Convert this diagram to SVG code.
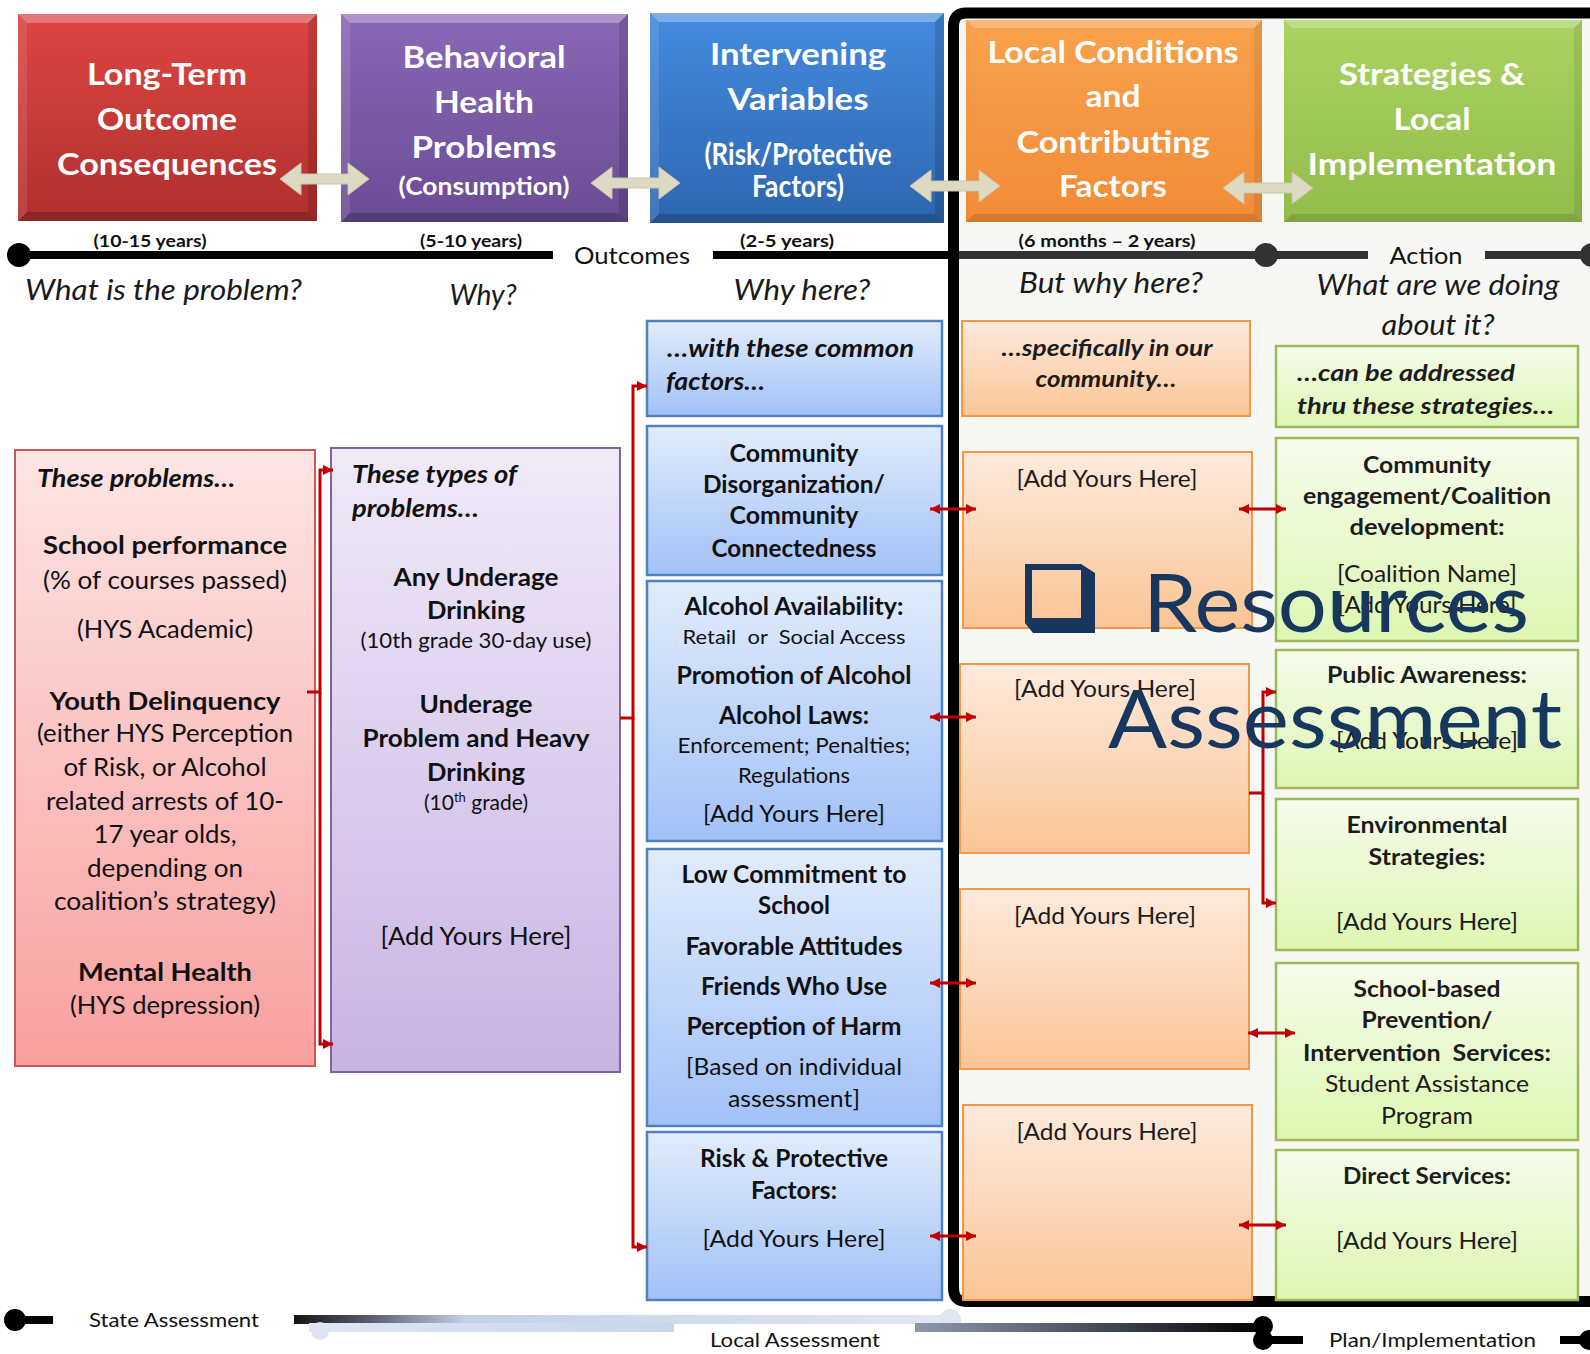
<svg xmlns="http://www.w3.org/2000/svg" width="1590" height="1354" viewBox="0 0 1590 1354">
<defs>
<linearGradient id="gPink" x1="0" y1="0" x2="0" y2="1"><stop offset="0" stop-color="#fde5e5"/><stop offset="1" stop-color="#f8a09f"/></linearGradient>
<linearGradient id="gPurp" x1="0" y1="0" x2="0" y2="1"><stop offset="0" stop-color="#f0eaf8"/><stop offset="1" stop-color="#c8b3e3"/></linearGradient>
<linearGradient id="gBlue" x1="0" y1="0" x2="0" y2="1"><stop offset="0" stop-color="#e1ecfc"/><stop offset="1" stop-color="#a2c1f7"/></linearGradient>
<linearGradient id="gOr" x1="0" y1="0" x2="0" y2="1"><stop offset="0" stop-color="#fdeadd"/><stop offset="1" stop-color="#fbc595"/></linearGradient>
<linearGradient id="gGr" x1="0" y1="0" x2="0" y2="1"><stop offset="0" stop-color="#f6fcec"/><stop offset="1" stop-color="#ddf6b1"/></linearGradient>
<linearGradient id="hRed" x1="0" y1="0" x2="0" y2="1"><stop offset="0" stop-color="#dd4643"/><stop offset="1" stop-color="#b0302d"/></linearGradient>
<linearGradient id="hPurp" x1="0" y1="0" x2="0" y2="1"><stop offset="0" stop-color="#8968b6"/><stop offset="1" stop-color="#6a4c94"/></linearGradient>
<linearGradient id="hBlue" x1="0" y1="0" x2="0" y2="1"><stop offset="0" stop-color="#458bdf"/><stop offset="1" stop-color="#2d66af"/></linearGradient>
<linearGradient id="hOr" x1="0" y1="0" x2="0" y2="1"><stop offset="0" stop-color="#f9a24c"/><stop offset="1" stop-color="#f28b37"/></linearGradient>
<linearGradient id="hGr" x1="0" y1="0" x2="0" y2="1"><stop offset="0" stop-color="#abd262"/><stop offset="1" stop-color="#92bc4c"/></linearGradient>
<linearGradient id="bar1" x1="0" y1="0" x2="1" y2="0"><stop offset="0" stop-color="#141414"/><stop offset="0.12" stop-color="#5b6172"/><stop offset="0.26" stop-color="#c3d0e7"/><stop offset="1" stop-color="#e2e8f4"/></linearGradient>
<linearGradient id="bar2" x1="0" y1="0" x2="1" y2="0"><stop offset="0" stop-color="#dfe6f3"/><stop offset="1" stop-color="#c8d5ec"/></linearGradient>
<linearGradient id="bar3" x1="0" y1="0" x2="1" y2="0"><stop offset="0" stop-color="#8e99ad"/><stop offset="0.5" stop-color="#4a4f5c"/><stop offset="1" stop-color="#000"/></linearGradient>
<marker id="ah" viewBox="0 0 10 10" refX="10" refY="5" markerWidth="11" markerHeight="10" markerUnits="userSpaceOnUse" orient="auto-start-reverse"><path d="M0,0 L10,5 L0,10 Z" fill="#c00000"/></marker>
</defs>
<style>
text{font-family:Lato,"Liberation Sans",sans-serif;fill:#111}
.hd{fill:#fff;font-weight:700;font-size:31px;text-anchor:middle}
.hs{font-size:24px}
.c{text-anchor:middle}
.b{font-weight:700}
.i{font-style:italic}
.pre{white-space:pre}
.yr{font-size:17px;font-weight:700;text-anchor:middle}
.q{font-size:29px;font-style:italic;fill:#1a1a1a}
.tl{font-size:20px}
.p{font-size:25px}
.bl{font-size:24px}
.sm{font-size:21px}
.og{font-size:23px;fill:#1c1c1c}
.wm{font-size:82px;fill:#17375e}
.hi{fill:#fff}
.sh{fill:#000}
.red{fill:none;stroke:#c00000;stroke-width:3}
.beige{fill:#ddd9c3;stroke:#c9c4a8;stroke-width:1}
</style>
<rect x="0" y="0" width="1590" height="1354" fill="#fff"/>
<rect x="953" y="13" width="640" height="1288" fill="#f7f7f5"/>

<g id="header-long-term">
<rect x="18" y="14" width="299" height="207" fill="url(#hRed)"/>
<path class="hi" opacity="0.28" d="M18,14 H317 L308,23 H27 Z"/>
<path class="hi" opacity="0.1" d="M18,14 L27,23 V212 L18,221 Z"/>
<path class="sh" opacity="0.14" d="M317,14 V221 L308,212 V23 Z"/>
<path class="sh" opacity="0.2" d="M18,221 H317 L308,212 H27 Z"/>
<text class="hd" x="167" y="85" textLength="160" lengthAdjust="spacingAndGlyphs">Long-Term</text>
<text class="hd" x="167" y="130" textLength="140" lengthAdjust="spacingAndGlyphs">Outcome</text>
<text class="hd" x="167" y="175" textLength="220" lengthAdjust="spacingAndGlyphs">Consequences</text>
</g>
<g id="header-behavioral">
<rect x="341" y="14" width="287" height="208" fill="url(#hPurp)"/>
<path class="hi" opacity="0.3" d="M341,14 H628 L619,23 H350 Z"/>
<path class="hi" opacity="0.1" d="M341,14 L350,23 V213 L341,222 Z"/>
<path class="sh" opacity="0.14" d="M628,14 V222 L619,213 V23 Z"/>
<path class="sh" opacity="0.2" d="M341,222 H628 L619,213 H350 Z"/>
<text class="hd" x="484" y="68" textLength="163" lengthAdjust="spacingAndGlyphs">Behavioral</text>
<text class="hd" x="484" y="113" textLength="100" lengthAdjust="spacingAndGlyphs">Health</text>
<text class="hd" x="484" y="158" textLength="145" lengthAdjust="spacingAndGlyphs">Problems</text>
<text class="hd hs" x="484" y="195" textLength="171" lengthAdjust="spacingAndGlyphs">(Consumption)</text>
</g>
<g id="header-intervening">
<rect x="650" y="13" width="294" height="210" fill="url(#hBlue)"/>
<path class="hi" opacity="0.3" d="M650,13 H944 L935,22 H659 Z"/>
<path class="hi" opacity="0.1" d="M650,13 L659,22 V214 L650,223 Z"/>
<path class="sh" opacity="0.14" d="M944,13 V223 L935,214 V22 Z"/>
<path class="sh" opacity="0.2" d="M650,223 H944 L935,214 H659 Z"/>
<text class="hd" x="798" y="65" textLength="176" lengthAdjust="spacingAndGlyphs">Intervening</text>
<text class="hd" x="798" y="110" textLength="141" lengthAdjust="spacingAndGlyphs">Variables</text>
<text class="hd" x="798" y="165" font-size="25" textLength="187" lengthAdjust="spacingAndGlyphs">(Risk/Protective</text>
<text class="hd" x="798" y="197" font-size="25" textLength="92" lengthAdjust="spacingAndGlyphs">Factors)</text>
</g>

<g id="frame">
<path d="M1600,13 H966 Q953.5,13 953.5,26 V1288 Q953.5,1301.5 966,1301.5 H1600" fill="none" stroke="#000" stroke-width="11"/>
</g>

<g id="header-local-conditions">
<rect x="966" y="20" width="296" height="202" fill="url(#hOr)"/>
<path class="hi" opacity="0.25" d="M966,20 H1262 L1254,28 H974 Z"/>
<path class="sh" opacity="0.08" d="M1262,20 V222 L1254,214 V28 Z"/>
<path class="sh" opacity="0.12" d="M966,222 H1262 L1254,214 H974 Z"/>
<text class="hd" x="1113" y="63" textLength="251" lengthAdjust="spacingAndGlyphs">Local Conditions</text>
<text class="hd" x="1113" y="107" textLength="55" lengthAdjust="spacingAndGlyphs">and</text>
<text class="hd" x="1113" y="153" textLength="193" lengthAdjust="spacingAndGlyphs">Contributing</text>
<text class="hd" x="1113" y="197" textLength="108" lengthAdjust="spacingAndGlyphs">Factors</text>
</g>
<g id="header-strategies">
<rect x="1284" y="20" width="298" height="202" fill="url(#hGr)"/>
<path class="hi" opacity="0.25" d="M1284,20 H1582 L1574,28 H1292 Z"/>
<path class="sh" opacity="0.08" d="M1582,20 V222 L1574,214 V28 Z"/>
<path class="sh" opacity="0.12" d="M1284,222 H1582 L1574,214 H1292 Z"/>
<text class="hd" x="1432" y="85" textLength="186" lengthAdjust="spacingAndGlyphs">Strategies &amp;</text>
<text class="hd" x="1432" y="130" textLength="77" lengthAdjust="spacingAndGlyphs">Local</text>
<text class="hd" x="1432" y="175" textLength="249" lengthAdjust="spacingAndGlyphs">Implementation</text>
</g>

<g id="timeline-top">
<circle cx="19" cy="255" r="12" fill="#000"/>
<line x1="19" y1="255" x2="553" y2="255" stroke="#000" stroke-width="8"/>
<line x1="713" y1="255" x2="950" y2="255" stroke="#000" stroke-width="8"/>
<line x1="959" y1="255" x2="1368" y2="255" stroke="#333" stroke-width="8"/>
<circle cx="1266" cy="255" r="12" fill="#333"/>
<line x1="1485" y1="255" x2="1590" y2="255" stroke="#333" stroke-width="8"/>
<circle cx="1592" cy="255" r="12" fill="#333"/>
<text class="yr" x="150" y="247" textLength="113" lengthAdjust="spacingAndGlyphs">(10-15 years)</text>
<text class="yr" x="471" y="247" textLength="102" lengthAdjust="spacingAndGlyphs">(5-10 years)</text>
<text class="yr" x="787" y="247" textLength="94" lengthAdjust="spacingAndGlyphs">(2-5 years)</text>
<text class="yr" x="1107" y="247" textLength="177" lengthAdjust="spacingAndGlyphs">(6 months – 2 years)</text>
<text class="c" x="632" y="264" font-size="24" textLength="116" lengthAdjust="spacingAndGlyphs">Outcomes</text>
<text class="c" x="1426" y="264" font-size="24" textLength="73" lengthAdjust="spacingAndGlyphs">Action</text>
<text class="q" x="25" y="300" textLength="277" lengthAdjust="spacingAndGlyphs">What is the problem?</text>
<text class="q c" x="483" y="305" textLength="67" lengthAdjust="spacingAndGlyphs">Why?</text>
<text class="q c" x="802" y="300" textLength="137" lengthAdjust="spacingAndGlyphs">Why here?</text>
<text class="q c" x="1111" y="293" textLength="184" lengthAdjust="spacingAndGlyphs">But why here?</text>
<text class="q c" x="1438" y="295" textLength="243" lengthAdjust="spacingAndGlyphs">What are we doing</text>
<text class="q c" x="1438" y="335" textLength="113" lengthAdjust="spacingAndGlyphs">about it?</text>
</g>

<g id="node-these-problems">
<rect x="15" y="450" width="300" height="616" fill="url(#gPink)" stroke="#c8595a" stroke-width="2"/>
<text class="b i" x="37" y="487" font-size="24" textLength="198" lengthAdjust="spacingAndGlyphs">These problems…</text>
<text class="p b c" x="165" y="554" textLength="244" lengthAdjust="spacingAndGlyphs">School performance</text>
<text class="p c" x="165" y="589" textLength="244" lengthAdjust="spacingAndGlyphs">(% of courses passed)</text>
<text class="p c" x="165" y="638" textLength="176" lengthAdjust="spacingAndGlyphs">(HYS Academic)</text>
<text class="p b c" x="165" y="710" textLength="231" lengthAdjust="spacingAndGlyphs">Youth Delinquency</text>
<text class="p c" x="165" y="742" textLength="256" lengthAdjust="spacingAndGlyphs">(either HYS Perception</text>
<text class="p c" x="165" y="776" textLength="203" lengthAdjust="spacingAndGlyphs">of Risk, or Alcohol</text>
<text class="p c" x="165" y="810" textLength="238" lengthAdjust="spacingAndGlyphs">related arrests of 10-</text>
<text class="p c" x="165" y="843" textLength="143" lengthAdjust="spacingAndGlyphs">17 year olds,</text>
<text class="p c" x="165" y="877" textLength="156" lengthAdjust="spacingAndGlyphs">depending on</text>
<text class="p c" x="165" y="910" textLength="222" lengthAdjust="spacingAndGlyphs">coalition’s strategy)</text>
<text class="p b c" x="165" y="981" textLength="174" lengthAdjust="spacingAndGlyphs">Mental Health</text>
<text class="p c" x="165" y="1014" textLength="190" lengthAdjust="spacingAndGlyphs">(HYS depression)</text>
</g>

<g id="node-types-of-problems">
<rect x="331" y="448" width="289" height="624" fill="url(#gPurp)" stroke="#8064a2" stroke-width="2"/>
<text class="b i" x="352" y="483" font-size="24" textLength="165" lengthAdjust="spacingAndGlyphs">These types of</text>
<text class="b i" x="352" y="517" font-size="24" textLength="127" lengthAdjust="spacingAndGlyphs">problems…</text>
<text class="p b c" x="476" y="586" textLength="165" lengthAdjust="spacingAndGlyphs">Any Underage</text>
<text class="p b c" x="476" y="619" textLength="98" lengthAdjust="spacingAndGlyphs">Drinking</text>
<text class="sm c" x="476" y="648" textLength="231" lengthAdjust="spacingAndGlyphs">(10th grade 30-day use)</text>
<text class="p b c" x="476" y="713" textLength="113" lengthAdjust="spacingAndGlyphs">Underage</text>
<text class="p b c" x="476" y="747" textLength="227" lengthAdjust="spacingAndGlyphs">Problem and Heavy</text>
<text class="p b c" x="476" y="781" textLength="98" lengthAdjust="spacingAndGlyphs">Drinking</text>
<text class="sm c" x="476" y="810">(10<tspan font-size="13" dy="-8">th</tspan><tspan dy="8"> grade)</tspan></text>
<text class="p c" x="476" y="945" textLength="191" lengthAdjust="spacingAndGlyphs">[Add Yours Here]</text>
</g>

<g id="node-common-factors">
<rect x="647" y="321" width="295" height="95" fill="url(#gBlue)" stroke="#4f81bd" stroke-width="2.5"/>
<text class="bl b i" x="667" y="357" textLength="247" lengthAdjust="spacingAndGlyphs">…with these common</text>
<text class="bl b i" x="666" y="390" textLength="99" lengthAdjust="spacingAndGlyphs">factors…</text>
</g>
<g id="node-community-disorganization">
<rect x="647" y="426" width="295" height="149" fill="url(#gBlue)" stroke="#4f81bd" stroke-width="2.5"/>
<text class="bl b c" x="794" y="462" textLength="129" lengthAdjust="spacingAndGlyphs">Community</text>
<text class="bl b c" x="794" y="493" textLength="182" lengthAdjust="spacingAndGlyphs">Disorganization/</text>
<text class="bl b c" x="794" y="524" textLength="129" lengthAdjust="spacingAndGlyphs">Community</text>
<text class="bl b c" x="794" y="557" textLength="165" lengthAdjust="spacingAndGlyphs">Connectedness</text>
</g>
<g id="node-alcohol-availability">
<rect x="647" y="581" width="295" height="260" fill="url(#gBlue)" stroke="#4f81bd" stroke-width="2.5"/>
<text class="bl b c" x="794" y="615" textLength="219" lengthAdjust="spacingAndGlyphs">Alcohol Availability:</text>
<text class="c pre" x="794" y="644" font-size="20" textLength="223" lengthAdjust="spacingAndGlyphs">Retail  or  Social Access</text>
<text class="bl b c" x="794" y="684" textLength="235" lengthAdjust="spacingAndGlyphs">Promotion of Alcohol</text>
<text class="bl b c" x="794" y="724" textLength="150" lengthAdjust="spacingAndGlyphs">Alcohol Laws:</text>
<text class="sm c" x="794" y="753" textLength="233" lengthAdjust="spacingAndGlyphs">Enforcement; Penalties;</text>
<text class="sm c" x="794" y="783" textLength="112" lengthAdjust="spacingAndGlyphs">Regulations</text>
<text class="bl c" x="794" y="822" textLength="182" lengthAdjust="spacingAndGlyphs">[Add Yours Here]</text>
</g>
<g id="node-low-commitment">
<rect x="647" y="849" width="295" height="277" fill="url(#gBlue)" stroke="#4f81bd" stroke-width="2.5"/>
<text class="bl b c" x="794" y="883" textLength="225" lengthAdjust="spacingAndGlyphs">Low Commitment to</text>
<text class="bl b c" x="794" y="914" textLength="72" lengthAdjust="spacingAndGlyphs">School</text>
<text class="bl b c" x="794" y="955" textLength="217" lengthAdjust="spacingAndGlyphs">Favorable Attitudes</text>
<text class="bl b c" x="794" y="995" textLength="186" lengthAdjust="spacingAndGlyphs">Friends Who Use</text>
<text class="bl b c" x="794" y="1035" textLength="215" lengthAdjust="spacingAndGlyphs">Perception of Harm</text>
<text class="bl c" x="794" y="1075" textLength="216" lengthAdjust="spacingAndGlyphs">[Based on individual</text>
<text class="bl c" x="794" y="1107" textLength="132" lengthAdjust="spacingAndGlyphs">assessment]</text>
</g>
<g id="node-risk-protective">
<rect x="647" y="1132" width="295" height="168" fill="url(#gBlue)" stroke="#4f81bd" stroke-width="2.5"/>
<text class="bl b c" x="794" y="1167" textLength="188" lengthAdjust="spacingAndGlyphs">Risk &amp; Protective</text>
<text class="bl b c" x="794" y="1199" textLength="86" lengthAdjust="spacingAndGlyphs">Factors:</text>
<text class="bl c" x="794" y="1247" textLength="183" lengthAdjust="spacingAndGlyphs">[Add Yours Here]</text>
</g>

<g id="node-specifically">
<rect x="962" y="321" width="288" height="95" fill="url(#gOr)" stroke="#f79646" stroke-width="2"/>
<text class="og b i c" x="1107" y="356" font-size="22" textLength="211" lengthAdjust="spacingAndGlyphs">…specifically in our</text>
<text class="og b i c" x="1106" y="387" font-size="22" textLength="141" lengthAdjust="spacingAndGlyphs">community…</text>
</g>
<g id="node-local-1">
<rect x="963" y="452" width="289" height="176" fill="url(#gOr)" stroke="#f79646" stroke-width="2"/>
<text class="og c" x="1107" y="487" textLength="181" lengthAdjust="spacingAndGlyphs">[Add Yours Here]</text>
</g>
<g id="node-local-2">
<rect x="960" y="664" width="289" height="189" fill="url(#gOr)" stroke="#f79646" stroke-width="2"/>
<text class="og c" x="1105" y="697" textLength="182" lengthAdjust="spacingAndGlyphs">[Add Yours Here]</text>
</g>
<g id="node-local-3">
<rect x="960" y="889" width="289" height="180" fill="url(#gOr)" stroke="#f79646" stroke-width="2"/>
<text class="og c" x="1105" y="924" textLength="182" lengthAdjust="spacingAndGlyphs">[Add Yours Here]</text>
</g>
<g id="node-local-4">
<rect x="963" y="1105" width="289" height="195" fill="url(#gOr)" stroke="#f79646" stroke-width="2"/>
<text class="og c" x="1107" y="1140" textLength="181" lengthAdjust="spacingAndGlyphs">[Add Yours Here]</text>
</g>

<g id="node-addressed">
<rect x="1276" y="346" width="302" height="81" fill="url(#gGr)" stroke="#9bbb59" stroke-width="2.5"/>
<text class="og b i" x="1297" y="381" font-size="24" textLength="218" lengthAdjust="spacingAndGlyphs">…can be addressed</text>
<text class="og b i" x="1297" y="414" font-size="24" textLength="257" lengthAdjust="spacingAndGlyphs">thru these strategies…</text>
</g>
<g id="node-community-engagement">
<rect x="1276" y="438" width="302" height="203" fill="url(#gGr)" stroke="#9bbb59" stroke-width="2.5"/>
<text class="og b c" x="1427" y="473" textLength="128" lengthAdjust="spacingAndGlyphs">Community</text>
<text class="og b c" x="1427" y="504" textLength="248" lengthAdjust="spacingAndGlyphs">engagement/Coalition</text>
<text class="og b c" x="1427" y="535" textLength="155" lengthAdjust="spacingAndGlyphs">development:</text>
<text class="og c" x="1427" y="582" textLength="180" lengthAdjust="spacingAndGlyphs">[Coalition Name]</text>
<text class="og c" x="1427" y="613" textLength="179" lengthAdjust="spacingAndGlyphs">[Add Yours Here]</text>
</g>
<g id="node-public-awareness">
<rect x="1276" y="650" width="302" height="138" fill="url(#gGr)" stroke="#9bbb59" stroke-width="2.5"/>
<text class="og b c" x="1427" y="683" textLength="200" lengthAdjust="spacingAndGlyphs">Public Awareness:</text>
<text class="og c" x="1427" y="749" textLength="182" lengthAdjust="spacingAndGlyphs">[Add Yours Here]</text>
</g>
<g id="node-environmental">
<rect x="1276" y="799" width="302" height="151" fill="url(#gGr)" stroke="#9bbb59" stroke-width="2.5"/>
<text class="og b c" x="1427" y="833" textLength="161" lengthAdjust="spacingAndGlyphs">Environmental</text>
<text class="og b c" x="1427" y="865" textLength="117" lengthAdjust="spacingAndGlyphs">Strategies:</text>
<text class="og c" x="1427" y="930" textLength="182" lengthAdjust="spacingAndGlyphs">[Add Yours Here]</text>
</g>
<g id="node-school-based">
<rect x="1276" y="963" width="302" height="177" fill="url(#gGr)" stroke="#9bbb59" stroke-width="2.5"/>
<text class="og b c" x="1427" y="997" textLength="147" lengthAdjust="spacingAndGlyphs">School-based</text>
<text class="og b c" x="1427" y="1028" textLength="131" lengthAdjust="spacingAndGlyphs">Prevention/</text>
<text class="og b c pre" x="1427" y="1061" textLength="248" lengthAdjust="spacingAndGlyphs">Intervention  Services:</text>
<text class="og c" x="1427" y="1092" textLength="204" lengthAdjust="spacingAndGlyphs">Student Assistance</text>
<text class="og c" x="1427" y="1124" textLength="92" lengthAdjust="spacingAndGlyphs">Program</text>
</g>
<g id="node-direct-services">
<rect x="1276" y="1150" width="302" height="150" fill="url(#gGr)" stroke="#9bbb59" stroke-width="2.5"/>
<text class="og b c" x="1427" y="1184" textLength="168" lengthAdjust="spacingAndGlyphs">Direct Services:</text>
<text class="og c" x="1427" y="1249" textLength="182" lengthAdjust="spacingAndGlyphs">[Add Yours Here]</text>
</g>

<g id="connectors">
<path class="beige" d="M280,179 L301,163 V174 H348 V163 L369,179 L348,195 V184 H301 V195 Z"/>
<path class="beige" d="M591,183 L612,167 V178 H659 V167 L680,183 L659,199 V188 H612 V199 Z"/>
<path class="beige" d="M910,186 L931,170 V181 H979 V170 L1000,186 L979,202 V191 H931 V202 Z"/>
<path class="beige" d="M1223,188 L1244,172 V183 H1292 V172 L1313,188 L1292,204 V193 H1244 V204 Z"/>
<path class="red" d="M307,692 H320 V470 H333" marker-end="url(#ah)"/>
<path class="red" d="M320,692 V1044 H333" marker-end="url(#ah)"/>
<path class="red" d="M620,718 H633 V386 H647" marker-end="url(#ah)"/>
<path class="red" d="M633,718 V1247 H647" marker-end="url(#ah)"/>
<path class="red" d="M930,509 H976" marker-start="url(#ah)" marker-end="url(#ah)"/>
<path class="red" d="M930,717 H976" marker-start="url(#ah)" marker-end="url(#ah)"/>
<path class="red" d="M930,983 H976" marker-start="url(#ah)" marker-end="url(#ah)"/>
<path class="red" d="M930,1236 H976" marker-start="url(#ah)" marker-end="url(#ah)"/>
<path class="red" d="M1239,509 H1286" marker-start="url(#ah)" marker-end="url(#ah)"/>
<path class="red" d="M1248,1033 H1295" marker-start="url(#ah)" marker-end="url(#ah)"/>
<path class="red" d="M1239,1225 H1286" marker-start="url(#ah)" marker-end="url(#ah)"/>
<path class="red" d="M1249,793 H1263 V692 H1276" marker-end="url(#ah)"/>
<path class="red" d="M1263,793 V903 H1276" marker-end="url(#ah)"/>
</g>

<g id="timeline-bottom">
<rect x="294" y="1315" width="656" height="9" fill="url(#bar1)"/>
<circle cx="950" cy="1320" r="11" fill="#dfe6f2"/>
<rect x="309" y="1323" width="365" height="9" fill="url(#bar2)"/>
<circle cx="320" cy="1331" r="9" fill="#dde5f2"/>
<rect x="915" y="1323" width="348" height="9" fill="url(#bar3)"/>
<circle cx="15" cy="1320" r="11" fill="#000"/>
<rect x="15" y="1316" width="38" height="8" fill="#000"/>
<circle cx="1263" cy="1326" r="10" fill="#000"/>
<circle cx="1263" cy="1340" r="10" fill="#000"/>
<rect x="1263" y="1336" width="40" height="8" fill="#000"/>
<rect x="1560" y="1336" width="30" height="8" fill="#000"/>
<circle cx="1589" cy="1340" r="10" fill="#000"/>
<text class="tl" x="89" y="1327" textLength="170" lengthAdjust="spacingAndGlyphs">State Assessment</text>
<text class="tl c" x="795" y="1347" textLength="170" lengthAdjust="spacingAndGlyphs">Local Assessment</text>
<text class="tl" x="1329" y="1347" textLength="207" lengthAdjust="spacingAndGlyphs">Plan/Implementation</text>
</g>

<g id="watermark">
<path d="M1025,564 H1081 L1095,573 V633 H1033 L1025,623 Z M1032,570 V618 H1081 V570 Z" fill="#17375e" fill-rule="evenodd"/>
<text class="wm" x="1143" y="632" textLength="386" lengthAdjust="spacingAndGlyphs">Resources</text>
<text class="wm" x="1108" y="748" font-size="79" textLength="454" lengthAdjust="spacingAndGlyphs">Assessment</text>
</g>
</svg>
